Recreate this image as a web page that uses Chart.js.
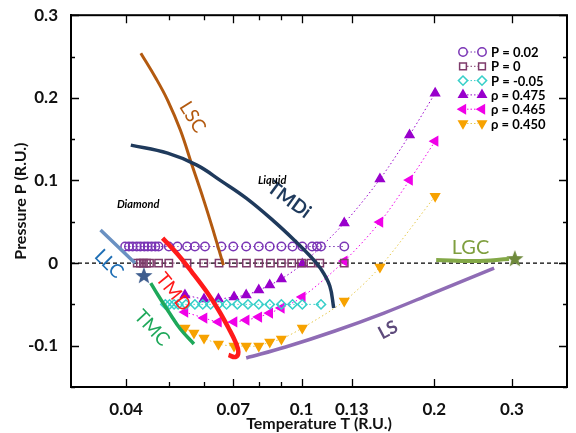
<!DOCTYPE html>
<html lang="en">
<head>
<meta charset="UTF-8" />
<title>Phase diagram P-T</title>
<script src="https://cdn.jsdelivr.net/npm/chart.js"></script>
<style>
  body { margin: 0; background: #fff; }
  #wrap { width: 576px; height: 433px; }
</style>
</head>
<body>
<div id="wrap"><canvas id="phaseChart" width="576" height="433"></canvas></div>
<script>
// ---------- data: temperature T and pressure P (reduced units) ----------

// isobars (open markers)
const isoP002T = [0.0398, 0.0406, 0.0414, 0.0423, 0.0431, 0.044, 0.0448, 0.0457, 0.0466, 0.0474,
  0.050, 0.0523, 0.055, 0.0573, 0.0604, 0.0658, 0.070, 0.0749, 0.080, 0.0847, 0.090, 0.0954,
  0.1004, 0.1057, 0.1084, 0.1107, 0.125];
const isoP0T = [0.0424, 0.0431, 0.0438, 0.0445, 0.0452, 0.0474, 0.050, 0.055, 0.060, 0.065,
  0.070, 0.075, 0.080, 0.085, 0.090, 0.095, 0.100, 0.105, 0.110, 0.125];
const isoPm005T = [0.0491, 0.0502, 0.0514, 0.0525, 0.0547, 0.0573, 0.0597, 0.0622, 0.0648,
  0.0676, 0.0715, 0.0756, 0.080, 0.0847, 0.090, 0.0954, 0.1004, 0.1107];

// isochores (filled markers)
const rho475T = [0.0544, 0.0601, 0.0648, 0.0703, 0.0749, 0.080, 0.0847, 0.090, 0.1004, 0.125, 0.1506, 0.1758, 0.2009];
const rho475P = [-0.0387, -0.0435, -0.0435, -0.041, -0.0387, -0.0327, -0.0266, -0.0193, -0.0012, 0.0484, 0.1016, 0.155, 0.2056];
const rho465T = [0.0544, 0.0601, 0.0648, 0.0703, 0.0749, 0.080, 0.0847, 0.090, 0.1004, 0.125, 0.1506, 0.1758, 0.2009];
const rho465P = [-0.0593, -0.0665, -0.0713, -0.0713, -0.069, -0.0653, -0.0605, -0.0544, -0.0411, 0.0024, 0.0496, 0.1004, 0.1475];
const rho450T = [0.0544, 0.057, 0.0601, 0.0648, 0.0703, 0.0749, 0.080, 0.0847, 0.090, 0.1004, 0.125, 0.1506, 0.2009];
const rho450P = [-0.0786, -0.0846, -0.0907, -0.098, -0.1004, -0.1004, -0.1004, -0.0955, -0.0919, -0.0786, -0.046, -0.0048, 0.081];

// lines of the diagram
const lscT = [0.0432, 0.0467, 0.0497, 0.0531, 0.0564, 0.060, 0.0632, 0.0665];
const lscP = [0.254, 0.224, 0.197, 0.161, 0.119, 0.0762, 0.0375, -0.0024];
const tmdiT = [0.041, 0.0497, 0.0579, 0.0658, 0.0749, 0.0865, 0.0968, 0.1046, 0.1107, 0.1159, 0.1183];
const tmdiP = [0.1427, 0.133, 0.1185, 0.0992, 0.0786, 0.0508, 0.0266, 0.0085, -0.0073, -0.0278, -0.0544];
const llcT = [0.035, 0.0384, 0.0419];
const llcP = [0.0399, 0.0195, 0.0];
const tmdT = [0.0484, 0.0523, 0.0564, 0.061, 0.0648, 0.0683, 0.0708, 0.0719, 0.0708, 0.0683];
const tmdP = [0.0302, 0.0109, -0.0109, -0.0351, -0.0568, -0.0786, -0.0955, -0.1076, -0.1137, -0.1113];
const tmcT = [0.0455, 0.0474, 0.050, 0.0531, 0.057];
const tmcP = [-0.0242, -0.0399, -0.0593, -0.0798, -0.0979];
const lsT = [0.0749, 0.092, 0.119, 0.1538, 0.1988, 0.2734];
const lsP = [-0.1149, -0.1016, -0.0822, -0.0605, -0.0363, -0.006];
const lgcT = [0.202, 0.248, 0.2955];
const lgcP = [0.0036, 0.0024, 0.0048];

// critical points
const llcPointT = [0.0439], llcPointP = [-0.0145];
const lgcPointT = [0.3046], lgcPointP = [0.006];

// axis ticks
const xTicks = [0.04, 0.05, 0.06, 0.07, 0.08, 0.09, 0.1, 0.13, 0.2, 0.3];
const xLabels = [0.04, 0.07, 0.1, 0.13, 0.2, 0.3];

const pts = (t, p) => t.map((v, i) => ({ x: v, y: Array.isArray(p) ? p[i] : p }));

function starImage(color, size) {
  const c = document.createElement('canvas');
  c.width = size; c.height = size;
  const g = c.getContext('2d');
  const r = size / 2, ri = r * 0.42;
  g.beginPath();
  for (let i = 0; i < 10; i++) {
    const a = -Math.PI / 2 + i * Math.PI / 5;
    const rr = i % 2 ? ri : r;
    g.lineTo(r + rr * Math.cos(a), r + 1 + rr * Math.sin(a));
  }
  g.closePath();
  g.fillStyle = color;
  g.fill();
  return c;
}

const FONT = "Lato, 'Open Sans', sans-serif";

function curve(data, color, width) {
  return { data, borderColor: color, borderWidth: width || 3.5, pointRadius: 0, showLine: true, tension: 0.4, fill: false };
}
function markers(data, color, style, opts) {
  return Object.assign({
    data, showLine: true, borderColor: color, borderWidth: 1, borderDash: [1.5, 2.5],
    pointStyle: style, pointRadius: 4.5, pointBorderColor: color, pointBorderWidth: 1.5,
    pointBackgroundColor: 'rgba(0,0,0,0)', tension: 0.3
  }, opts || {});
}

const datasets = [
  curve(pts(tmdT, tmdP), '#ff1a1a', 4.5),
  curve(pts(tmdiT, tmdiP), '#1f3a5c', 3.5),
  curve(pts(lscT, lscP), '#b35a10', 3),
  curve(pts(llcT, llcP), '#6a91c2', 3.5),
  curve(pts(tmcT, tmcP), '#1ea85a', 3.5),
  curve(pts(lsT, lsP), '#8f6cb5', 3.5),
  curve(pts(lgcT, lgcP), '#83a847', 4),
  { data: pts(llcPointT, llcPointP), pointStyle: starImage('#3e5d8e', 18), pointRadius: 8, showLine: false },
  { data: pts(lgcPointT, lgcPointP), pointStyle: starImage('#6f8a3c', 18), pointRadius: 8, showLine: false },
  markers(pts(isoP002T, 0.02), '#7a35b5', 'circle', { label: 'P = 0.02', pointRadius: 4.2 }),
  markers(pts(isoP0T, 0), '#7e3b6b', 'rect', { label: 'P = 0', pointRadius: 5.2 }),
  markers(pts(isoPm005T, -0.05), '#38cfc9', 'rectRot', { label: 'P = -0.05', pointRadius: 4.6 }),
  markers(pts(rho475T, rho475P), '#9900cc', 'triangle', { label: 'ρ = 0.475', pointRadius: 5, pointBackgroundColor: '#9900cc' }),
  markers(pts(rho465T, rho465P), '#f000e8', 'triangle', { label: 'ρ = 0.465', pointRadius: 5, pointRotation: -90, pointBackgroundColor: '#f000e8' }),
  markers(pts(rho450T, rho450P), '#f7a200', 'triangle', { label: 'ρ = 0.450', pointRadius: 5, pointRotation: 180, pointBackgroundColor: '#f7a200', borderColor: '#e6c84a' }),
  { data: [{ x: 0.03, y: 0 }, { x: 0.4, y: 0 }], borderColor: '#000', borderWidth: 1.2, borderDash: [4, 3], pointRadius: 0, showLine: true }
];

// text drawn on the diagram
const notes = [
  { text: 'LSC', t: 0.0566, p: 0.1765, rot: 58, color: '#b35a10', font: '19px ' + FONT },
  { text: 'TMDi', t: 0.0937, p: 0.0765, rot: 36, color: '#1f3a5c', font: 'bold 19px ' + FONT },
  { text: 'Liquid', t: 0.0858, p: 0.1, rot: 0, color: '#000', font: 'italic bold 11px ' + FONT },
  { text: 'Diamond', t: 0.0426, p: 0.0713, rot: 0, color: '#000', font: 'italic bold 11px ' + FONT },
  { text: 'LLC', t: 0.0366, p: -0.001, rot: 45, color: '#1f6fb5', font: '19px ' + FONT },
  { text: 'TMD', t: 0.0512, p: -0.035, rot: 51, color: '#ff1a1a', font: '19px ' + FONT },
  { text: 'TMC', t: 0.0458, p: -0.0786, rot: 47, color: '#1ea85a', font: '19px ' + FONT },
  { text: 'LS', t: 0.157, p: -0.081, rot: -28, color: '#5e4b7c', font: 'bold 18px ' + FONT },
  { text: 'LGC', t: 0.2417, p: 0.0193, rot: 0, color: '#7f9f3f', font: '20px ' + FONT }
];

const frameAndExtras = {
  id: 'frameAndExtras',
  afterDraw(chart) {
    const { ctx, chartArea: a, scales: { x, y } } = chart;
    ctx.save();
    // frame
    ctx.strokeStyle = '#000';
    ctx.lineWidth = 2;
    ctx.strokeRect(a.left, a.top, a.right - a.left, a.bottom - a.top);
    // inward ticks
    ctx.lineWidth = 1.3;
    ctx.beginPath();
    xTicks.forEach(v => {
      const px = Math.round(x.getPixelForValue(v)) + 0.5;
      const len = xLabels.includes(v) ? 8 : 5;
      ctx.moveTo(px, a.bottom); ctx.lineTo(px, a.bottom - len);
      ctx.moveTo(px, a.top); ctx.lineTo(px, a.top + len);
    });
    y.ticks.forEach(tk => {
      const py = Math.round(y.getPixelForValue(tk.value)) + 0.5;
      const major = Math.abs(Math.round(tk.value * 10) - tk.value * 10) < 1e-6;
      const len = major ? 8 : 4;
      ctx.moveTo(a.left, py); ctx.lineTo(a.left + len, py);
      ctx.moveTo(a.right, py); ctx.lineTo(a.right - len, py);
    });
    ctx.stroke();

    // labels on the diagram
    notes.forEach(n => {
      ctx.save();
      ctx.translate(x.getPixelForValue(n.t), y.getPixelForValue(n.p));
      ctx.rotate(n.rot * Math.PI / 180);
      ctx.font = n.font;
      ctx.fillStyle = n.color;
      ctx.textAlign = 'center';
      ctx.textBaseline = 'middle';
      ctx.fillText(n.text, 0, 0);
      ctx.restore();
    });

    // legend in the upper right
    let row = 0;
    chart.data.datasets.forEach(ds => {
      if (!ds.label) return;
      const yy = 52 + row * 14.3;
      const x1 = 463, x2 = 482;
      ctx.save();
      ctx.strokeStyle = ds.borderColor;
      ctx.lineWidth = 1;
      ctx.setLineDash([1.5, 2]);
      ctx.beginPath(); ctx.moveTo(x1 + 4, yy); ctx.lineTo(x2 - 4, yy); ctx.stroke();
      ctx.setLineDash([]);
      ctx.strokeStyle = ds.pointBorderColor;
      ctx.fillStyle = ds.pointBackgroundColor;
      ctx.lineWidth = ds.pointBorderWidth;
      const opt = { pointStyle: ds.pointStyle, radius: Math.min(ds.pointRadius, 4.8), rotation: ds.pointRotation || 0, borderWidth: ds.pointBorderWidth };
      Chart.helpers.drawPoint(ctx, opt, x1, yy);
      Chart.helpers.drawPoint(ctx, opt, x2, yy);
      ctx.fillStyle = '#000';
      ctx.font = 'bold 13px ' + FONT;
      ctx.textBaseline = 'middle';
      ctx.fillText(ds.label, 491, yy + 1);
      ctx.restore();
      row++;
    });
    ctx.restore();
  }
};

new Chart(document.getElementById('phaseChart'), {
  type: 'scatter',
  data: { datasets },
  options: {
    responsive: false,
    animation: false,
    layout: { padding: { top: 15, right: 0, left: 0, bottom: 0 } },
    plugins: { legend: { display: false }, tooltip: { enabled: false } },
    scales: {
      x: {
        type: 'logarithmic',
        min: 0.03,
        max: 0.4,
        afterFit: s => { s.height = 46; },
        afterBuildTicks: s => { s.ticks = xTicks.map(v => ({ value: v })); },
        grid: { display: false },
        border: { display: true, color: '#000', width: 2 },
        ticks: {
          autoSkip: false, maxRotation: 0, padding: 4, color: '#111',
          font: { family: FONT, size: 17, weight: 'bold' },
          callback: v => xLabels.includes(v) ? String(v) : ''
        },
        title: {
          display: true, text: 'Temperature T (R.U.)', color: '#111',
          font: { family: FONT, size: 16, weight: 'bold' }, padding: { top: 0, bottom: 0 }
        }
      },
      y: {
        min: -0.15,
        max: 0.3,
        afterFit: s => { s.width = 71; },
        grid: { display: false },
        border: { display: true, color: '#000', width: 2 },
        ticks: {
          stepSize: 0.05, padding: 5, color: '#111',
          font: { family: FONT, size: 17, weight: 'bold' },
          callback: v => {
            const k = Math.round(v * 100);
            return k % 10 === 0 && k > -15 ? String(k / 100) : '';
          }
        },
        title: {
          display: true, text: 'Pressure P (R.U.)', color: '#111',
          font: { family: FONT, size: 16, weight: 'bold' }, padding: { top: 11, bottom: 0 }
        }
      }
    }
  },
  plugins: [frameAndExtras]
});
</script>
</body>
</html>
